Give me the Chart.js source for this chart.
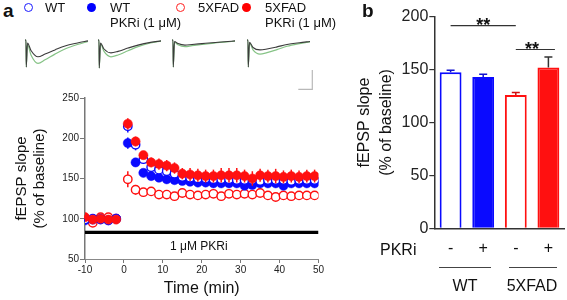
<!DOCTYPE html>
<html><head><meta charset="utf-8">
<script src="https://cdn.jsdelivr.net/npm/chart.js@4"></script>
<style>
html,body{margin:0;padding:0;background:#fff;}
body{width:567px;height:300px;position:relative;overflow:hidden;font-family:"Liberation Sans",Arial,sans-serif;}
.t{position:absolute;white-space:nowrap;color:#111;line-height:1;}
canvas{position:absolute;}
.mk{position:absolute;width:9px;height:9px;border-radius:50%;box-sizing:border-box;}
.gl{position:absolute;height:0;border-top:1px solid #444;}
</style></head><body>

<canvas id="tr" width="300" height="62" style="left:20px;top:30px"></canvas>
<canvas id="ca" width="330" height="215" style="left:0;top:85px"></canvas>
<canvas id="cb" width="227" height="300" style="left:340px;top:0"></canvas>

<div class="t" style="left:3px;top:0.6px;font-size:19px;font-weight:bold">a</div>
<div class="t" style="left:362px;top:0.6px;font-size:19px;font-weight:bold">b</div>

<div class="mk" style="left:24px;top:2.5px;border:1.4px solid #1a1aff;background:#fff"></div>
<div class="t" style="left:45px;top:0.5px;font-size:13px">WT</div>
<div class="mk" style="left:87px;top:2.5px;background:#0000ff"></div>
<div class="t" style="left:110px;top:0.5px;font-size:13px">WT</div>
<div class="t" style="left:110px;top:15.5px;font-size:13px">PKRi (1 μM)</div>
<div class="mk" style="left:175.5px;top:2.5px;border:1.4px solid #ff2020;background:#fff"></div>
<div class="t" style="left:198px;top:0.5px;font-size:13px">5XFAD</div>
<div class="mk" style="left:242px;top:2.5px;background:#ff0000"></div>
<div class="t" style="left:265px;top:0.5px;font-size:13px">5XFAD</div>
<div class="t" style="left:265px;top:15.5px;font-size:13px">PKRi (1 μM)</div>

<div class="t" style="left:170px;top:240px;font-size:12px">1 μM PKRi</div>

<div class="t" style="left:380px;top:242px;font-size:16px">PKRi</div>
<div class="gl" style="left:439px;top:267px;width:52px"></div>
<div class="gl" style="left:509px;top:267px;width:48px"></div>
<div class="t" style="left:465px;top:278px;font-size:16px;transform:translateX(-50%)">WT</div>
<div class="t" style="left:532px;top:278px;font-size:16px;transform:translateX(-50%)">5XFAD</div>

<script>
// ---------- data ----------
const timeMin = [-10,-8,-6,-4,-2,1,3,5,7,9,11,13,15,17,19,21,23,25,27,29,31,33,35,37,39,41,43,45,47,49];
const wtMean      = [99,100,99,98,100, 215,192,174,164,161,159,156,152,151,150,150,149,149,149,148,148,148,147,148,148,148,147,148,148,148];
const wtSem       = [2,2,2,2,2, 8,7,5,5,5,5,5,5,5,4,4,4,4,4,4,4,4,4,4,4,4,4,4,4,4];
const wtPkriMean  = [98,99,100,98,100, 194,170,157,153,151,149,148,147,146,145,145,144,144,144,144,141,142,144,144,144,141,144,144,144,144];
const wtPkriSem   = [2,2,2,2,2, 7,5,3,3,3,3,3,3,3,3,3,3,3,3,3,3,3,3,3,3,3,3,3,3,3];
const fadMean     = [101,95,102,102,100, 149,136,133,134,130,130,128,132,130,129,130,131,128,131,130,131,130,132,129,127,129,128,129,129,129];
const fadSem      = [2,3,2,2,2, 10,6,5,4,3,3,3,3,3,3,3,3,3,3,3,3,3,3,3,3,3,3,3,3,3];
const fadPkriMean = [102,99,100,99,99, 218,196,179,170,168,166,163,156,155,154,153,153,154,154,154,153,150,154,153,153,152,153,152,153,153];
const fadPkriSem  = [3,2,2,2,2, 7,6,5,6,7,7,7,7,8,8,8,8,9,9,9,8,9,8,8,9,8,8,8,8,8];
const pkriBar = {start:-10, end:50, level:83};

const barGroups = ['WT','WT','5XFAD','5XFAD'];
const barPkri   = ['-','+','-','+'];
const barMeans  = [147.5, 143, 126, 152];
const barSems   = [2, 2.7, 2.3, 10];
const sigFrom = [0, 2];
const sigTo   = [2, 3.2];
const sigLevel = [191.5, 169];
const sigText  = ['**','**'];

// representative fEPSP sweeps (ms, mV)
const sweepT = [0,0.2,0.25,0.5,1.2,2.6,4,6,8,10.5,12.6];
const sweepStart = [1, 15.6, 30.4, 45.4];
const sweepBefore = [
  [0,0,-0.9,-0.1,-0.35,-0.56,-0.47,-0.33,-0.2,-0.1,-0.03],
  [0,0,-0.93,-0.1,-0.3,-0.43,-0.38,-0.27,-0.17,-0.08,-0.03],
  [0,0,-0.9,-0.05,-0.12,-0.17,-0.15,-0.12,-0.09,-0.06,-0.03],
  [0,0,-0.9,-0.08,-0.25,-0.33,-0.3,-0.23,-0.15,-0.09,-0.05]
];
const sweepAfter = [
  [0,0,-0.9,-0.15,-0.5,-0.78,-0.66,-0.47,-0.3,-0.15,-0.05],
  [0,0,-0.93,-0.12,-0.38,-0.56,-0.5,-0.36,-0.22,-0.1,-0.04],
  [0,0,-0.9,-0.07,-0.16,-0.22,-0.19,-0.15,-0.11,-0.07,-0.04],
  [0,0,-0.9,-0.1,-0.33,-0.47,-0.42,-0.32,-0.21,-0.12,-0.06]
];
const scaleBarX = [55.66, 58.46, 58.46];
const scaleBarY = [-1.644, -1.644, -1.0];

// ---------- setup ----------
const F = '"Liberation Sans", Arial, sans-serif';
Chart.defaults.font.family = F;
Chart.defaults.color = '#222';
const BLUE = '#0a0aff', RED = '#ff1010';

// traces
const trSets = [];
for (let k = 0; k < 4; k++) {
  trSets.push({data: sweepT.map((t,i)=>({x: sweepStart[k]+t, y: sweepAfter[k][i]})), borderColor:'#86c386', borderWidth:1.2, pointRadius:0, cubicInterpolationMode:'monotone'});
}
for (let k = 0; k < 4; k++) {
  trSets.push({data: sweepT.map((t,i)=>({x: sweepStart[k]+t, y: sweepBefore[k][i]})), borderColor:'#3c3c3c', borderWidth:1.1, pointRadius:0, cubicInterpolationMode:'monotone', order:-1});
}
trSets.push({data: scaleBarX.map((x,i)=>({x, y: scaleBarY[i]})), borderColor:'#b8b8b8', borderWidth:1.2, pointRadius:0, tension:0});
new Chart(document.getElementById('tr'), {
  type:'line', data:{datasets:trSets},
  options:{responsive:false, animation:false, events:[],
    layout:{padding:0},
    plugins:{legend:{display:false}, tooltip:{enabled:false}},
    scales:{x:{type:'linear', display:false, min:0, max:60}, y:{display:false, min:-1.733, max:0.333}}}
});

// error bar plugin (both directions) for scatter
const errPlugin = {
  id:'errA',
  beforeDatasetDraw(chart, args) {
    const ds = chart.data.datasets[args.index];
    if (!ds.sem) return;
    const ctx = chart.ctx, ys = chart.scales.y;
    ctx.save();
    ctx.strokeStyle = ds.errColor; ctx.lineWidth = 1.5;
    args.meta.data.forEach((pt, i) => {
      const v = ds.data[i].y, s = ds.sem[i];
      ctx.beginPath();
      ctx.moveTo(pt.x, ys.getPixelForValue(v + s));
      ctx.lineTo(pt.x, ys.getPixelForValue(v - s));
      ctx.stroke();
    });
    ctx.restore();
  }
};

function pts(m){ return timeMin.map((t,i)=>({x:t, y:m[i]})); }
new Chart(document.getElementById('ca'), {
  type:'scatter',
  data:{datasets:[
    {label:'5XFAD PKRi', data:pts(fadPkriMean), sem:fadPkriSem, errColor:RED, pointRadius:4.6, pointBackgroundColor:RED, pointBorderColor:RED, pointBorderWidth:0.5, order:0},
    {label:'WT', data:pts(wtMean), sem:wtSem, errColor:BLUE, pointRadius:4.2, pointBackgroundColor:'#fff', pointBorderColor:BLUE, pointBorderWidth:1.4, order:1},
    {label:'WT PKRi', data:pts(wtPkriMean), sem:wtPkriSem, errColor:BLUE, pointRadius:4.6, pointBackgroundColor:BLUE, pointBorderColor:BLUE, pointBorderWidth:0.5, order:2},
    {label:'5XFAD', data:pts(fadMean), sem:fadSem, errColor:RED, pointRadius:4.2, pointBackgroundColor:'#fff', pointBorderColor:RED, pointBorderWidth:1.4, order:3},
    {type:'line', label:'PKRi', data:[{x:pkriBar.start,y:pkriBar.level},{x:pkriBar.end,y:pkriBar.level}], borderColor:'#000', borderWidth:3.3, pointRadius:0, order:4}
  ]},
  options:{responsive:false, animation:false, events:[],
    layout:{padding:{top:13, right:11.5, left:0, bottom:0}},
    plugins:{legend:{display:false}, tooltip:{enabled:false}},
    scales:{
      x:{type:'linear', min:-10, max:50,
        ticks:{stepSize:10, font:{size:10}, color:'#222', padding:1, maxRotation:0},
        grid:{display:true, drawOnChartArea:false, drawTicks:true, tickLength:4, color:'#777', lineWidth:1},
        border:{display:true, color:'#888', width:1},
        title:{display:true, text:'Time (min)', font:{size:16}, color:'#111', padding:{top:0, bottom:1.4}},
        afterFit(s){ s.height = 41; }
      },
      y:{min:50, max:250,
        ticks:{stepSize:50, font:{size:10}, color:'#222', padding:1},
        grid:{display:true, drawOnChartArea:false, drawTicks:true, tickLength:5, color:'#777', lineWidth:1},
        border:{display:true, color:'#777', width:1.5},
        title:{display:true, text:['fEPSP slope','(% of baseline)'], font:{size:15, lineHeight:1.2}, color:'#111', padding:{top:13, bottom:0}},
        afterFit(s){ s.width = 85; }
      }
    }
  },
  plugins:[errPlugin]
});

// bar chart
const barPlugin = {
  id:'barExtras',
  afterDatasetsDraw(chart) {
    const ctx = chart.ctx, xs = chart.scales.x, ys = chart.scales.y;
    const meta = chart.getDatasetMeta(0);
    const errCols = ['#1010d0','#1010d0','#d01010','#333'];
    ctx.save();
    meta.data.forEach((bar, i) => {
      const top = ys.getPixelForValue(barMeans[i] + barSems[i]);
      const y0 = ys.getPixelForValue(barMeans[i]);
      ctx.strokeStyle = errCols[i]; ctx.lineWidth = 1.5;
      ctx.beginPath();
      ctx.moveTo(bar.x, y0); ctx.lineTo(bar.x, top);
      ctx.moveTo(bar.x - 4, top); ctx.lineTo(bar.x + 4, top);
      ctx.stroke();
    });
    // significance
    ctx.strokeStyle = '#333'; ctx.lineWidth = 1.2; ctx.fillStyle = '#111';
    ctx.font = 'bold 18px ' + F; ctx.textAlign = 'center'; ctx.textBaseline = 'alphabetic';
    for (let k = 0; k < sigFrom.length; k++) {
      const y = ys.getPixelForValue(sigLevel[k]);
      const x1 = xs.getPixelForValue(sigFrom[k]), x2 = xs.getPixelForValue(sigTo[k]);
      ctx.beginPath(); ctx.moveTo(x1, y); ctx.lineTo(x2, y); ctx.stroke();
      const xm = xs.getPixelForValue((sigFrom[k] + Math.round(sigTo[k])) / 2);
      ctx.fillText(sigText[k], xm, y + 5.5);
    }
    ctx.restore();
  }
};
new Chart(document.getElementById('cb'), {
  type:'bar',
  data:{labels:barPkri, datasets:[{
    data:barMeans,
    backgroundColor:['#ffffff', BLUE, '#ffffff', RED],
    borderColor:[BLUE, BLUE, RED, RED],
    borderWidth:2, borderSkipped:'bottom',
    barPercentage:0.67, categoryPercentage:1
  }]},
  options:{responsive:false, animation:false, events:[],
    layout:{padding:{top:16.7, right:2.3, left:0, bottom:0}},
    plugins:{legend:{display:false}, tooltip:{enabled:false}},
    scales:{
      x:{ticks:{font:{size:16}, color:'#111', padding:11},
        grid:{display:false, drawTicks:false, tickLength:0},
        border:{display:true, color:'#333', width:1.5},
        afterFit(s){ s.height = 71.7; }
      },
      y:{min:0, max:200,
        ticks:{stepSize:50, font:{size:16}, color:'#222', padding:1},
        grid:{display:true, drawOnChartArea:false, drawTicks:true, tickLength:5, color:'#333', lineWidth:1.2},
        border:{display:true, color:'#333', width:1.5},
        title:{display:true, text:['fEPSP slope','(% of baseline)'], font:{size:16, lineHeight:1.35}, color:'#111', padding:{top:14.2, bottom:0}},
        afterFit(s){ s.width = 94.3; }
      }
    }
  },
  plugins:[barPlugin]
});
</script>
</body></html>
